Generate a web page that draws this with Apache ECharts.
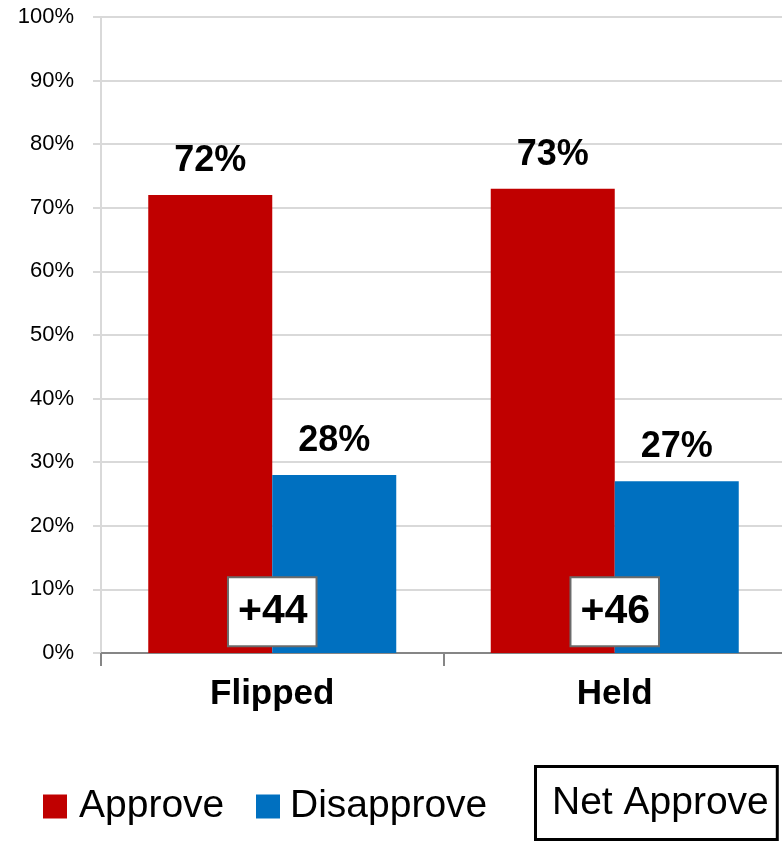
<!DOCTYPE html>
<html>
<head>
<meta charset="utf-8">
<script src="https://cdn.jsdelivr.net/npm/echarts@6/dist/echarts.min.js"></script>
<style>
html,body{margin:0;padding:0;background:#fff;overflow:hidden;}
#chart{width:792px;height:842px;}
</style>
</head>
<body>
<div id="chart"></div>
<script>
const categories = ['Flipped', 'Held'];
const approve = [72, 73];
const disapprove = [28, 27];
const netApprove = [44, 46];
const yTicks = [0, 10, 20, 30, 40, 50, 60, 70, 80, 90, 100];
const NET_LABEL_Y = 6.5;

const FONT = 'Liberation Sans';
const chart = echarts.init(document.getElementById('chart'));
chart.setOption({
  animation: false,
  textStyle: { fontFamily: FONT },
  grid: { left: 101, top: 17, width: 685, height: 636, containLabel: false },
  legend: [
    {
      data: [{ name: 'Approve', icon: 'rect' }],
      left: 43, top: 787, padding: 0,
      itemWidth: 24, itemHeight: 24,
      selectedMode: false,
      textStyle: { fontFamily: FONT, fontSize: 39, color: '#000', padding: [0, 0, 0, 7] }
    },
    {
      data: [{ name: 'Disapprove', icon: 'rect' }],
      left: 256, top: 787, padding: 0,
      itemWidth: 24, itemHeight: 24,
      selectedMode: false,
      textStyle: { fontFamily: FONT, fontSize: 39, color: '#000', padding: [0, 0, 0, 5] }
    },
    {
      data: [{ name: 'Net Approve', icon: 'none' }],
      left: 532, top: 765, padding: 0,
      itemWidth: 0, itemHeight: 24,
      selectedMode: false,
      textStyle: {
        fontFamily: FONT, fontSize: 39, color: '#000', lineHeight: 40,
        borderColor: '#000', borderWidth: 3, backgroundColor: '#fff',
        padding: [16, 7, 14, 15]
      }
    }
  ],
  xAxis: {
    type: 'category',
    data: categories,
    axisLine: { lineStyle: { color: '#868686', width: 2 } },
    axisTick: { show: true, length: 13, lineStyle: { color: '#868686', width: 2 } },
    axisLabel: { fontFamily: FONT, fontSize: 35, fontWeight: 'bold', color: '#000', margin: 24 }
  },
  yAxis: {
    type: 'value',
    min: yTicks[0], max: yTicks[yTicks.length - 1], interval: 10,
    axisLine: { show: true, lineStyle: { color: '#d9d9d9', width: 2 } },
    axisTick: { show: true, length: 8, lineStyle: { color: '#d9d9d9', width: 2 } },
    splitLine: { lineStyle: { color: '#d9d9d9', width: 2 } },
    axisLabel: { fontFamily: FONT, fontSize: 22, color: '#000', margin: 27, formatter: '{value}%' }
  },
  series: [
    {
      name: 'Approve', type: 'bar', data: approve,
      barWidth: 124, barGap: '0%',
      itemStyle: { color: '#C00000' },
      label: { show: true, position: 'top', distance: 16, formatter: '{c}%',
        fontFamily: FONT, fontSize: 36, fontWeight: 'bold', color: '#000' }
    },
    {
      name: 'Disapprove', type: 'bar', data: disapprove,
      barWidth: 124, barGap: '0%',
      itemStyle: { color: '#0070C0' },
      label: { show: true, position: 'top', distance: 16, formatter: '{c}%',
        fontFamily: FONT, fontSize: 36, fontWeight: 'bold', color: '#000' }
    },
    {
      name: 'Net Approve', type: 'scatter',
      data: netApprove.map((v, i) => [i, NET_LABEL_Y]),
      symbolSize: 2,
      itemStyle: { color: 'rgba(0,0,0,0)', opacity: 1 },
      z: 10,
      label: {
        show: true, position: 'inside',
        formatter: p => '+' + netApprove[p.dataIndex],
        fontFamily: FONT, fontSize: 41, fontWeight: 'bold', color: '#000',
        lineHeight: 43,
        backgroundColor: '#fff', borderColor: '#6b6b6b', borderWidth: 2,
        padding: [12, 8, 12, 9]
      }
    }
  ]
});
</script>
</body>
</html>
